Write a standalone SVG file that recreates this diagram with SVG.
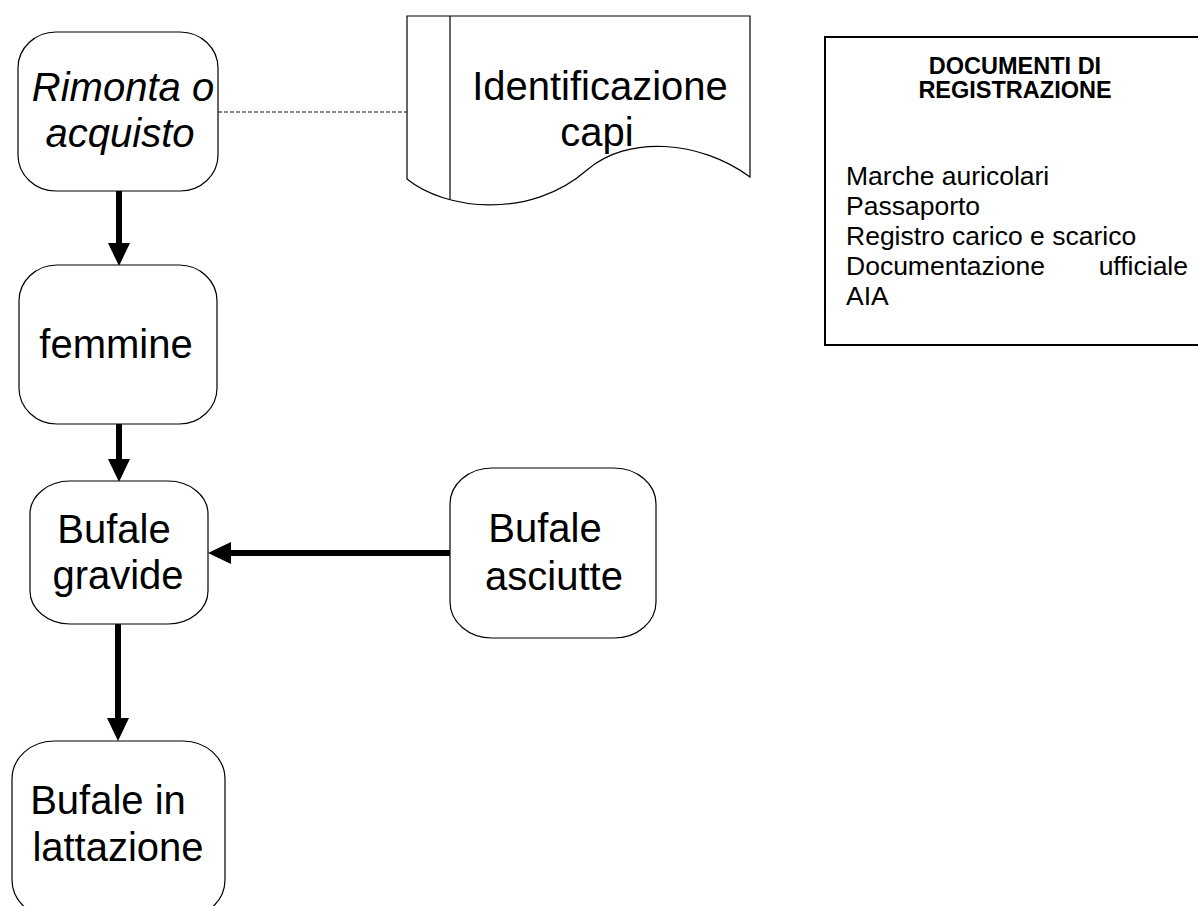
<svg xmlns="http://www.w3.org/2000/svg" width="1198" height="906" viewBox="0 0 1198 906">
<defs>
<style>
.box{fill:#fff;stroke:#000;stroke-width:1.2}
.lbl{font-family:"Liberation Sans",Arial,sans-serif;font-size:40px;fill:#000;text-anchor:middle}
.it{font-style:italic}
.body{font-family:"Liberation Sans",Arial,sans-serif;font-size:26.5px;fill:#000}
.title{font-family:"Liberation Sans",Arial,sans-serif;font-size:23.5px;font-weight:bold;fill:#000;text-anchor:middle}
.arr{stroke:#000;stroke-width:6;fill:none;marker-end:url(#ah)}
</style>
<marker id="ah" markerUnits="userSpaceOnUse" markerWidth="24" markerHeight="22" refX="0" refY="11" orient="auto">
<path d="M0,0 L23,11 L0,22 Z" fill="#000"/>
</marker>
</defs>
<rect width="1198" height="906" fill="#fff"/>
<g id="connectors">
<line x1="218" y1="112" x2="407" y2="112" stroke="#111" stroke-width="1" stroke-dasharray="4,2"/>
<line class="arr" x1="119" y1="191" x2="119" y2="243"/>
<line class="arr" x1="119" y1="424" x2="119" y2="459"/>
<line class="arr" x1="118" y1="624" x2="118" y2="718"/>
<line class="arr" x1="450" y1="553" x2="231" y2="553"/>
</g>
<g id="rimonta">
<rect class="box" x="18" y="32" width="200" height="159" rx="38" ry="36"/>
<text class="lbl it" x="123" y="101">Rimonta o</text>
<text class="lbl it" x="120" y="147">acquisto</text>
</g>
<g id="identificazione">
<path class="box" d="M407,16 H750 V177 C700,140 627,135 587,170 C530,220 445,210 407,179 Z"/>
<line x1="450" y1="16" x2="450" y2="199" stroke="#000" stroke-width="1.2"/>
<text class="lbl" x="600" y="100">Identificazione</text>
<text class="lbl" x="597" y="146">capi</text>
</g>
<g id="documenti">
<rect x="825" y="37" width="390" height="308" fill="#fff" stroke="#000" stroke-width="2"/>
<text class="title" x="1015" y="74">DOCUMENTI DI</text>
<text class="title" x="1015" y="98">REGISTRAZIONE</text>
<text class="body" x="846" y="185">Marche auricolari</text>
<text class="body" x="846" y="215">Passaporto</text>
<text class="body" x="846" y="245">Registro carico e scarico</text>
<text class="body" x="846" y="275">Documentazione</text>
<text class="body" x="1188" y="275" text-anchor="end">ufficiale</text>
<text class="body" x="846" y="305">AIA</text>
</g>
<g id="femmine">
<rect class="box" x="19" y="265" width="198" height="159" rx="38" ry="36"/>
<text class="lbl" x="116" y="358">femmine</text>
</g>
<g id="gravide">
<rect class="box" x="30" y="481" width="178" height="143" rx="40" ry="33"/>
<text class="lbl" x="114" y="543">Bufale</text>
<text class="lbl" x="118" y="589">gravide</text>
</g>
<g id="asciutte">
<rect class="box" x="450" y="468" width="206" height="170" rx="42" ry="36"/>
<text class="lbl" x="545" y="542">Bufale</text>
<text class="lbl" x="554" y="590">asciutte</text>
</g>
<g id="lattazione">
<rect class="box" x="12" y="741" width="213" height="177" rx="42" ry="38"/>
<text class="lbl" x="108" y="814">Bufale in</text>
<text class="lbl" x="118" y="861">lattazione</text>
</g>
</svg>
